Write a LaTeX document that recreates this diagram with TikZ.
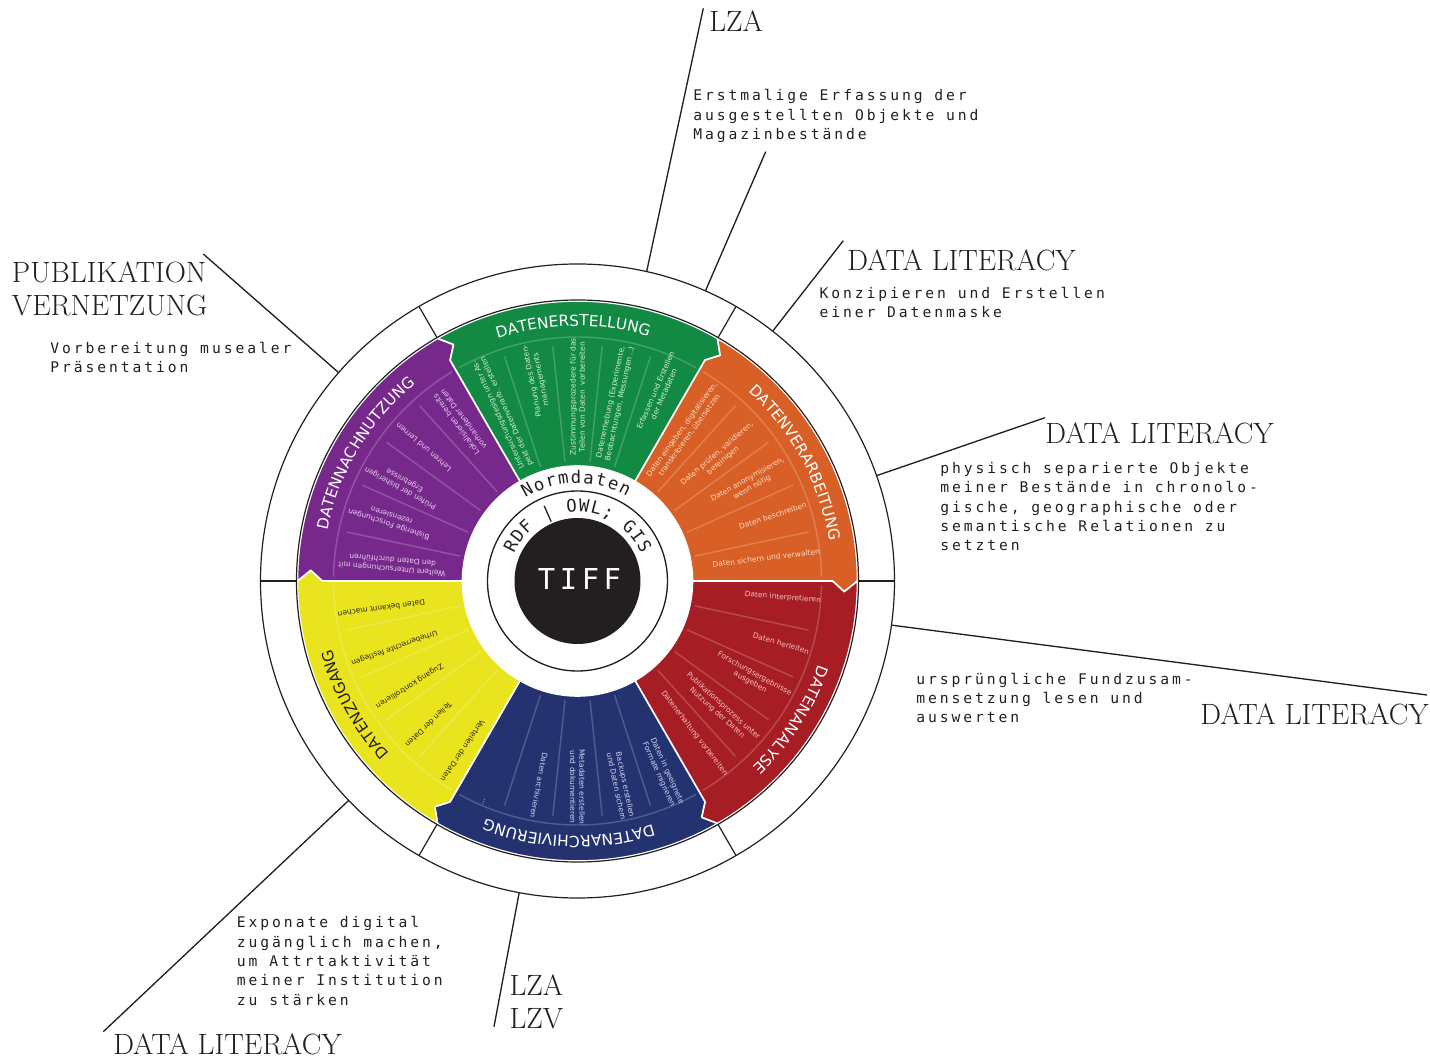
\documentclass[tikz,border=0pt]{standalone}
\usepackage{fontspec}
\usetikzlibrary{decorations.text}
\newfontfamily\wheelfont{DejaVu Sans}
\newfontfamily\notefont{DejaVu Sans Mono}[LetterSpace=20]
\newfontfamily\ringfont{DejaVu Sans Mono}
\newfontfamily\tifffont{DejaVu Sans Mono}[LetterSpace=16]
\newfontfamily\headfont{lmroman17-regular.otf}
\definecolor{erstellung}{HTML}{138A43}
\definecolor{erstellungText}{HTML}{D3ECD8}
\definecolor{verarbeitung}{HTML}{D86026}
\definecolor{verarbeitungText}{HTML}{FBDAC6}
\definecolor{analyse}{HTML}{A61D24}
\definecolor{analyseText}{HTML}{F2C3C5}
\definecolor{archivierung}{HTML}{243270}
\definecolor{archivierungText}{HTML}{D0D4F2}
\definecolor{zugang}{HTML}{E9E41E}
\definecolor{zugangText}{HTML}{2B2A12}
\definecolor{nachnutzung}{HTML}{77298B}
\definecolor{nachnutzungText}{HTML}{E7D0EE}
\definecolor{ink}{HTML}{231F20}
\newcommand{\titlefont}{\wheelfont\fontsize{11.5}{13}\selectfont}
\tikzset{
  x=0.75pt, y=0.75pt,
  wedge/.style={fill=#1, draw=white, line width=1.2pt, line join=round},
  divider/.style={draw=#1!80!white, line width=1.1pt},
  ring/.style={draw=ink, line width=0.9pt},
  leader/.style={draw=ink, line width=1pt},
  item/.style={font=\wheelfont\fontsize{5.6}{6.9}\selectfont, text=#1, align=center, inner sep=0pt},
  heading/.style={font=\headfont\fontsize{22}{24.75}\selectfont, text=ink, anchor=base west, align=left, inner sep=0pt},
  note/.style={font=\notefont\fontsize{11}{14.55}\selectfont, text=ink, anchor=base west, align=left, inner sep=0pt},
  ringchar/.style={font=\ringfont\fontsize{13}{15}\selectfont, text=ink, anchor=base, inner sep=0pt},
}

\begin{document}
\begin{tikzpicture}
  \useasboundingbox (-577.5,-478) rectangle (852.5,581);

  % ---------------------------------------------------------------- outer ring
  \draw[ring] (0,0) circle[radius=317];
  \foreach \ang in {0,60,...,300}
    \draw[ring] (\ang:281) -- (\ang:317);

  % ---------------------------------------------------------------- wedges
  \foreach \a/\col in {60/erstellung, 0/verarbeitung, -60/analyse, -120/archivierung, 180/zugang, 120/nachnutzung} {
    \pgfmathsetmacro\b{\a+60}
    \filldraw[wedge=\col] (\a:115) -- (\a:255) -- ({\a-2.3}:267) -- (\a:280)
      arc[start angle=\a, end angle=\b, radius=280]
      -- ({\b-2.3}:267) -- (\b:255) -- (\b:115)
      arc[start angle=\b, end angle=\a, radius=115] -- cycle;
    \foreach \k in {1,...,4}
      \draw[divider=\col] ({\a+12*\k}:120) -- ({\a+12*\k}:236);
    \draw[divider=\col] ({\a+1}:244) arc[start angle=\a+1, end angle=\b-1, radius=244];
  }
  \draw[ring] (0,0) circle[radius=281];

  % ---------------------------------------------------------------- Datenerstellung
  \foreach \ang/\rad/\txt [count=\n] in {
      114/184/{Untersuchungsdesign unter As-\\pekt der Datenverarb. erstellen},
      101.5/205/{Planung des Daten-\\managements},
      90/184/{Zustimmungsprozedere für das\\Teilen von Daten\ \ vorbereiten},
      78/182/{Datenerhebung (Experimente,\\Beobachtungen, Messungen ..)},
      66.5/206/{Erfassen und Erstellen\\der Metadaten}}
    \node[item=erstellungText, rotate=\ang] (erst\n) at (\ang:\rad) {\txt};

  % ---------------------------------------------------------------- Datenverarbeitung
  \foreach \ang/\rad/\txt [count=\n] in {
      54/184/{Daten eingeben, digitalisieren,\\transkribieren, übersetzen},
      41/189/{Daten prüfen, validieren,\\bereinigen},
      29.5/198/{Daten anonymisieren,\\wenn nötig},
      18.5/206/{Daten beschreiben},
      7/190/{Daten sichern und verwalten}}
    \node[item=verarbeitungText, rotate=\ang] (verar\n) at (\ang:\rad) {\txt};

  % ---------------------------------------------------------------- Datenanalyse
  \foreach \ang/\rad/\txt [count=\n] in {
      -4.6/206/{Daten interpretieren},
      -17/213/{Daten herleiten},
      -29/200/{Forschungsergebnisse\\ausgeben},
      -42/192/{Publikationsprozess unter\\Nutzung der Daten},
      -52.5/192/{Datenerhaltung vorbereiten}}
    \node[item=analyseText, rotate=\ang] (anal\n) at (\ang:\rad) {\txt};

  % ---------------------------------------------------------------- Datenarchivierung
  \foreach \ang/\rad/\txt [count=\n] in {
      -66/210/{Daten in geeignete\\Formate migrieren},
      -78/209/{Backups erstellen\\und Daten sichern},
      -90/206/{Metadaten erstellen\\und dokumentieren},
      -100.7/208/{Daten archivieren},
      -113/240/{...}}
    \node[item=archivierungText, rotate=\ang] (arch\n) at (\ang:\rad) {\txt};

  % ---------------------------------------------------------------- Datenzugang
  \foreach \ang/\rad/\txt [count=\n] in {
      188/198/{Daten bekannt machen},
      200/195/{Urheberrechte festlegen},
      212/198/{Zugang kontrollieren},
      224/207/{Teilen der Daten},
      236/205/{Verteilen der Daten}}
    \node[item=zugangText, rotate=\ang] (zug\n) at (\ang:\rad) {\txt};

  % ---------------------------------------------------------------- Datennachnutzung
  \foreach \ang/\rad/\txt [count=\n] in {
      126.5/198/{Lokalisieren bereits\\vorhandener Daten},
      139/204/{Lehren und Lernen},
      151/200/{Prüfen der bisherigen\\Ergebnisse},
      162/197/{Bisherige Forschungen\\rezensieren},
      175/186/{Weitere Untersuchungen mit\\den Daten durchführen}}
    \node[item=nachnutzungText, rotate=\ang] (nach\n) at (\ang:\rad) {\txt};

  % ---------------------------------------------------------------- wedge titles
  \path[decorate, decoration={text along path, text color=white, text align=center,
    text={|\titlefont|DATENERSTELLUNG}}] (121:255) arc[start angle=121, end angle=61, radius=255];
  \path[decorate, decoration={text along path, text color=white, text align=center,
    text={|\titlefont|DATENVERARBEITUNG}}] (58.5:255) arc[start angle=58.5, end angle=-1.5, radius=255];
  \path[decorate, decoration={text along path, text color=white, text align=center,
    text={|\titlefont|DATENANALYSE}}] (-3:255) arc[start angle=-3, end angle=-63, radius=255];
  \path[decorate, decoration={text along path, text color=white, text align=center,
    text={|\titlefont|DATENARCHIVIERUNG}}] (-62:255) arc[start angle=-62, end angle=-122, radius=255];
  \path[decorate, decoration={text along path, text color=ink, text align=center,
    text={|\titlefont|DATENZUGANG}}] (239:255) arc[start angle=239, end angle=179, radius=255];
  \path[decorate, decoration={text along path, text color=white, text align=center,
    text={|\titlefont|DATENNACHNUTZUNG}}] (179:255) arc[start angle=179, end angle=119, radius=255];

  % ---------------------------------------------------------------- centre
  \draw[ink, line width=1pt] (0,0) circle[radius=90];
  \foreach \ch [count=\i from 0] in {N,o,r,m,d,a,t,e,n}
    \node[ringchar, rotate={119-7.04*\i-90}] (norm\i) at ({119-7.04*\i}:98) {\ch};
  \foreach \ch [count=\i from 0] in {R,D,F,{},|,{},O,W,L,{;},{},G,I,S}
    \node[ringchar, rotate={152.5-9.65*\i-90}] (rdf\i) at ({152.5-9.65*\i}:69) {\ch};
  \fill[ink] (0,0) circle[radius=63];
  \node[font=\tifffont\fontsize{21.6}{24}\selectfont, text=white] (tiff) at (2,2) {TIFF};

  % ---------------------------------------------------------------- leaders
  \draw[leader] (77.4:317) -- (125.8,572.7);
  \draw[leader] (66.2:317) -- (188.2,429.3);
  \draw[leader] (52:317) -- (265.8,340.3);
  \draw[leader] (19.4:317) -- (467.5,163.3);
  \draw[leader] (-8:317) -- (849.5,-114);
  \draw[leader] (-100.6:317) -- (-83.5,-445.7);
  \draw[leader] (-136.2:317) -- (-474.2,-450.7);
  \draw[leader] (138.9:317) -- (-374.2,327);

  % ---------------------------------------------------------------- annotations
  \node[heading] (lzaTop) at (131.5,549) {LZA};
  \node[note] (erfassung) at (115.5,441.5) {Erstmalige Erfassung der\\ausgestellten Objekte und\\Magazinbestände};
  \node[heading] (literacyMaske) at (269.5,310.5) {DATA LITERACY};
  \node[note] (maske) at (241.8,263.3) {Konzipieren und Erstellen\\einer Datenmaske};
  \node[heading] (literacyRelation) at (467.5,137.7) {DATA LITERACY};
  \node[note] (relation) at (362.5,30.1) {physisch separierte Objekte\\meiner Bestände in chronolo-\\gische, geographische oder\\semantische Relationen zu\\setzten};
  \node[note] (fund) at (338.5,-141.8) {ursprüngliche Fundzusam-\\mensetzung lesen und\\auswerten};
  \node[heading] (literacyFund) at (622.5,-143) {DATA LITERACY};
  \node[note] (exponate) at (-340.8,-424.3) {Exponate digital\\zugänglich machen,\\um Attrtaktivität\\meiner Institution\\zu stärken};
  \node[heading] (literacyExponate) at (-464.5,-473) {DATA LITERACY};
  \node[heading] (lzaLzv) at (-68.2,-447) {LZA\\LZV};
  \node[heading] (publikation) at (-565.8,265.7) {PUBLIKATION\\VERNETZUNG};
  \node[note] (praesentation) at (-527.5,208.3) {Vorbereitung musealer\\Präsentation};

\end{tikzpicture}
\end{document}
